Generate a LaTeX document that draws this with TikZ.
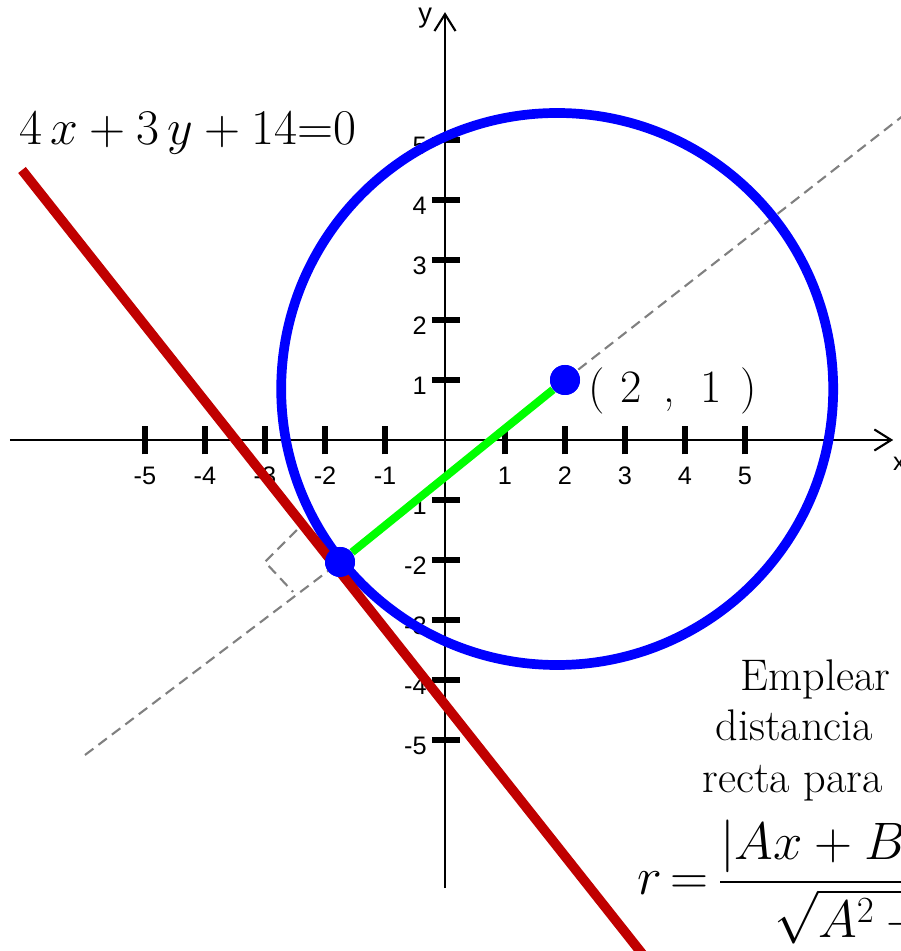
\RequirePackage{fix-cm}
\documentclass[tikz,border=0pt]{standalone}
\usepackage{amsmath}
\usepackage{fontspec}
\usepackage{tikz}
\usetikzlibrary{arrows.meta,calc}
\newfontfamily\axisfont{Liberation Sans}
\definecolor{circleblue}{HTML}{0000FF}
\definecolor{linered}{HTML}{C00000}
\definecolor{radiusgreen}{HTML}{00FF00}
\definecolor{guidegray}{HTML}{808080}

\begin{document}
\begin{tikzpicture}[
  axisline/.style={line width=1pt,-{Straight Barb[length=8pt,width=10pt]}},
  tickmark/.style={line width=3pt},
  ticklabel/.style={font=\axisfont\fontsize{12}{14}\selectfont,inner sep=0pt},
  guide/.style={guidegray,line width=1pt,dash pattern=on 5pt off 3pt},
  dot/.style={circle,fill=circleblue,inner sep=0pt,minimum size=0.5cm},
  bigtext/.style={inner sep=0pt,anchor=base west}]
  \useasboundingbox (-7.4167,-8.5167) rectangle (7.5833,7.3333);
  \coordinate (gs) at (-6,-5.25);
  \coordinate (ge) at (8,5.69);
  \coordinate (rs) at (-7.05,4.5);
  \coordinate (re) at (3.3,-8.58);
  \draw[guide] (-2.467,-1.5)--(-3,-2.033)--(-2.533,-2.533);
  \draw[axisline] (-7.25,0)--(7.47,0) node[ticklabel,anchor=west] (xlab) at (7.45,-0.4) {x};
  \draw[axisline] (0,-7.47)--(0,7.13) node[ticklabel,font=\axisfont\fontsize{13}{15}\selectfont] (ylab) at (-0.33,7.03) {y};
  \foreach \c in {-5,-4,-3,-2,-1,1,2,3,4,5}{
    \draw[tickmark] (\c,-0.24)--(\c,0.24);
    \node[ticklabel] (xt\c) at (\c,-0.6) {\c};
    \draw[tickmark] (-0.22,\c)--(0.25,\c);
    \node[ticklabel,anchor=east] (yt\c) at (-0.3,\c-0.1) {\c};
  }
  \node[dot] (cen) at (2,1) {};
  \node[dot] (tng) at (-1.75,-2.033) {};
  \draw[guide] (gs)--(tng.center);
  \draw[guide] (cen.center)--(ge);
  \draw[circleblue,line width=4.6pt] (1.87,0.85) circle (4.6);
  \draw[linered,line width=4.6pt] (rs)--(re);
  \draw[radiusgreen,line width=3.8pt] (tng)--(cen);
  \node[dot] at (cen) {};
  \node[dot] at (tng) {};
  \node[bigtext,font=\fontsize{23.7}{28}\selectfont] (eq) at (-7.1,4.93) {$4\,x+3\,y+14{=}0$};
  \node[bigtext,font=\fontsize{22}{26}\selectfont] (pt) at (2.38,0.62) {(\hspace{.35em}2\hspace{.45em},\hspace{.55em}1\hspace{.4em})};
  \node[bigtext,font=\fontsize{21}{25}\selectfont] (t1) at (4.917,-4.167) {Emplear};
  \node[bigtext,font=\fontsize{21}{25}\selectfont] (t2) at (4.5,-5.0) {distancia};
  \node[bigtext,font=\fontsize{21}{25}\selectfont] (t3) at (4.283,-5.867) {recta para};
  \node[bigtext,font=\fontsize{25}{29}\selectfont] (fm) at (3.2,-7.583)
    {$r\mkern3mu{=}\mkern3mu\dfrac{\left|Ax+By+C\right|}{\sqrt{A^2+B^2}}$};
\end{tikzpicture}
\end{document}
